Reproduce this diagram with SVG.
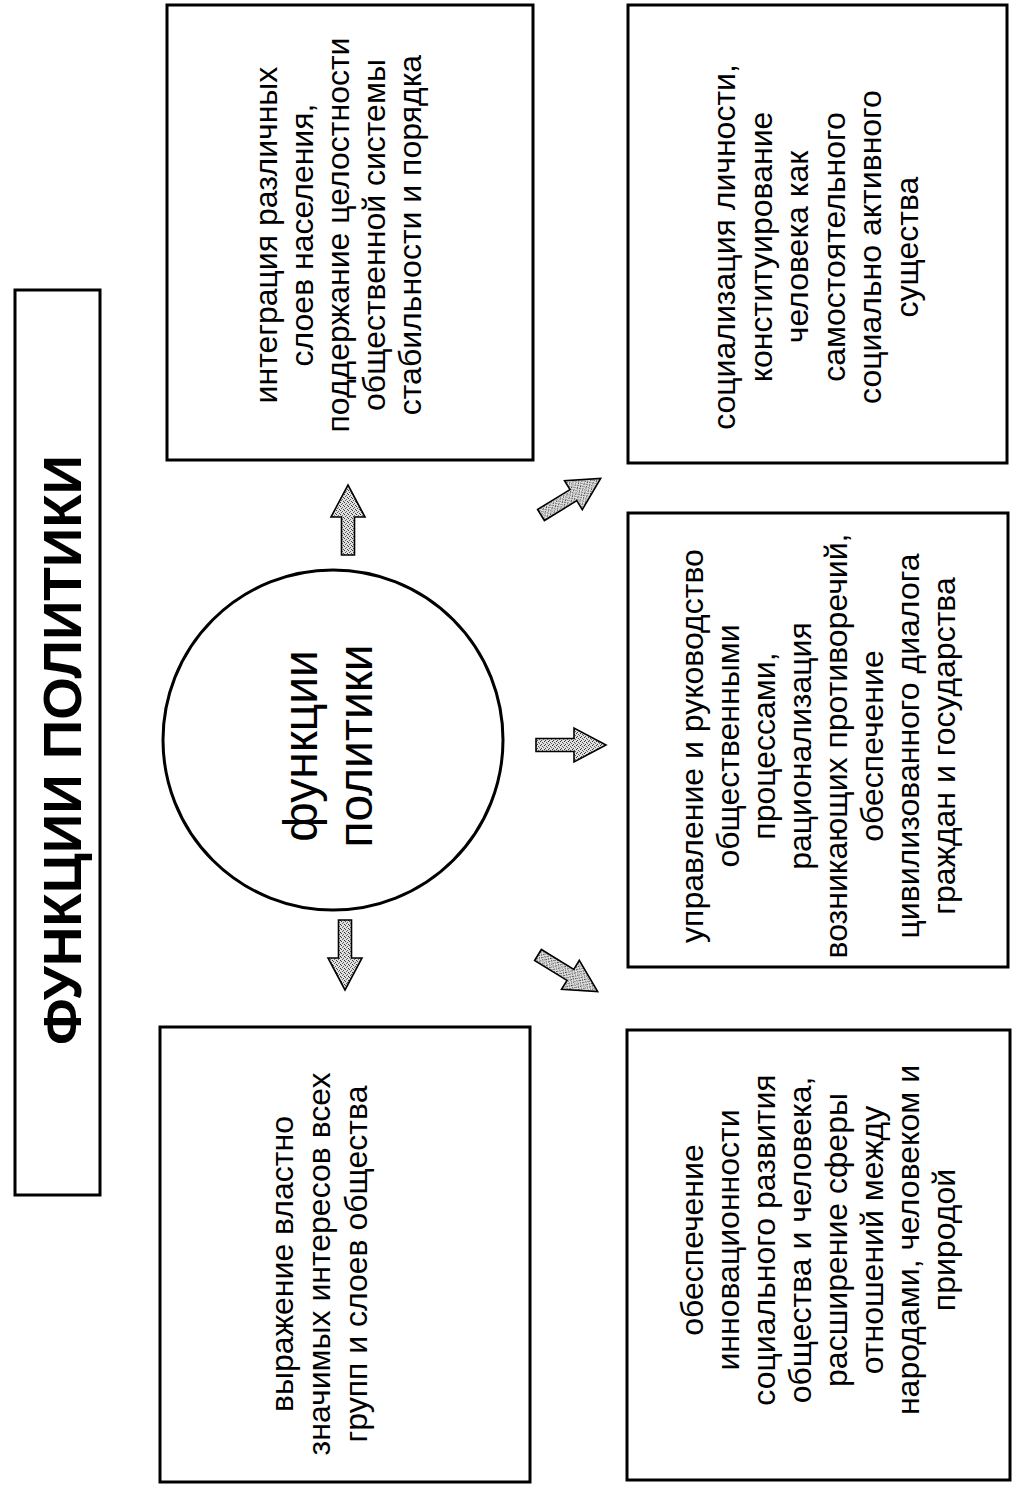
<svg xmlns="http://www.w3.org/2000/svg" width="1021" height="1500" viewBox="0 0 1021 1500">
<style>
.box{fill:#fff;stroke:#000;stroke-width:3}
.t{font-family:"Liberation Sans",Arial,sans-serif;font-size:32px;fill:#000;text-anchor:middle}
.c{font-family:"Liberation Sans",Arial,sans-serif;font-size:48px;fill:#000;text-anchor:middle}
.h{font-family:"Liberation Sans",Arial,sans-serif;font-size:54px;font-weight:bold;fill:#000;text-anchor:middle}
.arr{fill:url(#stip);stroke:#000;stroke-width:1.6;stroke-linejoin:miter}
</style>
<defs>
<pattern id="stip" width="4" height="4" patternUnits="userSpaceOnUse">
<rect width="4" height="4" fill="#e0e0e0"/>
<rect x="0" y="0" width="1" height="1" fill="#333"/>
<rect x="2" y="1" width="1" height="1" fill="#555"/>
<rect x="1" y="3" width="1" height="1" fill="#444"/>
<rect x="3" y="2" width="1" height="1" fill="#666"/>
</pattern>
<path id="arrow" d="M0,-6.5 L38,-6.5 L38,-17 L70,0 L38,17 L38,6.5 L0,6.5 Z"/>
</defs>
<rect width="1021" height="1500" fill="#fff"/>
<g transform="translate(0,1500) rotate(-90)">
<g id="title">
<rect class="box" x="305" y="15" width="905" height="85"/>
<text class="h" x="750" y="81" textLength="590" lengthAdjust="spacingAndGlyphs">ФУНКЦИИ ПОЛИТИКИ</text>
</g>
<g id="center">
<circle cx="760" cy="333" r="170" fill="#fff" stroke="#000" stroke-width="3"/>
<text class="c" x="754" y="317">функции</text>
<text class="c" x="754" y="372">политики</text>
</g>
<g id="integration">
<rect class="box" x="1040" y="167" width="455" height="366"/>
<text class="t" x="1265" y="277">интеграция различных</text>
<text class="t" x="1265" y="313">слоев населения,</text>
<text class="t" x="1265" y="349">поддержание целостности</text>
<text class="t" x="1265" y="385">общественной системы</text>
<text class="t" x="1265" y="421">стабильности и порядка</text>
</g>
<g id="socialization">
<rect class="box" x="1037" y="628" width="458" height="379"/>
<text class="t" x="1253" y="735">социализация личности,</text>
<text class="t" x="1253" y="771.5">конституирование</text>
<text class="t" x="1253" y="808">человека как</text>
<text class="t" x="1253" y="844.5">самостоятельного</text>
<text class="t" x="1253" y="881">социально активного</text>
<text class="t" x="1253" y="917.5">существа</text>
</g>
<g id="management">
<rect class="box" x="533" y="628" width="454" height="380"/>
<text class="t" x="754" y="703">управление и руководство</text>
<text class="t" x="754" y="739">общественными</text>
<text class="t" x="754" y="775">процессами,</text>
<text class="t" x="754" y="811">рационализация</text>
<text class="t" x="754" y="847">возникающих противоречий,</text>
<text class="t" x="754" y="883">обеспечение</text>
<text class="t" x="754" y="919">цивилизованного диалога</text>
<text class="t" x="754" y="955">граждан и государства</text>
</g>
<g id="expression">
<rect class="box" x="18" y="160" width="455" height="370"/>
<text class="t" x="236" y="293">выражение властно</text>
<text class="t" x="236" y="330">значимых интересов всех</text>
<text class="t" x="236" y="367">групп и слоев общества</text>
</g>
<g id="innovation">
<rect class="box" x="20" y="627" width="450" height="383"/>
<text class="t" x="260" y="703">обеспечение</text>
<text class="t" x="260" y="739">инновационности</text>
<text class="t" x="260" y="775">социального развития</text>
<text class="t" x="260" y="811">общества и человека,</text>
<text class="t" x="260" y="847">расширение сферы</text>
<text class="t" x="260" y="883">отношений между</text>
<text class="t" x="260" y="919">народами, человеком и</text>
<text class="t" x="260" y="955">природой</text>
</g>
</g>
<g id="connectors">
<use href="#arrow" class="arr" transform="translate(348,555) rotate(-90)"/>
<use href="#arrow" class="arr" transform="translate(345,920) rotate(90)"/>
<use href="#arrow" class="arr" transform="translate(536,745)"/>
<use href="#arrow" class="arr" transform="translate(541,515) rotate(-31.5)"/>
<use href="#arrow" class="arr" transform="translate(538,955) rotate(31.5)"/>
</g>
</svg>
